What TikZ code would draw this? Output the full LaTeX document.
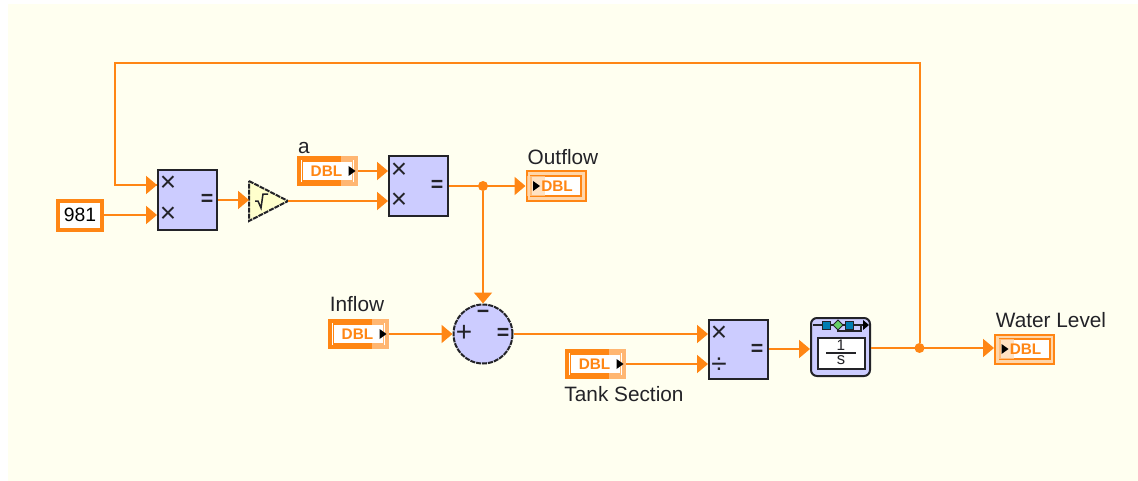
\documentclass[tikz,border=0pt]{standalone}
\usepackage{fontspec}
\setmainfont{Liberation Sans}
\usepackage{xcolor}
\usetikzlibrary{arrows.meta}
\definecolor{lvorange}{RGB}{255,134,20}
\definecolor{lvlight}{RGB}{255,214,170}
\definecolor{lvblue}{RGB}{204,204,255}
\definecolor{lvcream}{RGB}{255,255,240}
\definecolor{lvyellow}{RGB}{255,255,204}
\definecolor{lvdark}{RGB}{35,35,40}
\def\px{0.75pt}
\newcommand{\labelfont}{\fontsize{15.6}{18}\selectfont}
\tikzset{
  wire/.style={color=lvorange,line width=2*\px,-{Triangle[length=11*\px,width=18*\px]}},
  plainwire/.style={color=lvorange,line width=2*\px},
  jct/.style={circle,fill=lvorange,inner sep=0,minimum size=10*\px},
  fnbox/.style={draw=lvdark,fill=lvblue,line width=2*\px,minimum width=59*\px,minimum height=59*\px,inner sep=0},
  glyph/.style={color=lvdark,inner sep=0,font=\fontsize{16}{18}\selectfont\bfseries},
  bigglyph/.style={color=lvdark,inner sep=0,font=\fontsize{21}{22}\selectfont},
  lbl/.style={color=lvdark,inner sep=0,font=\labelfont},
  dbl/.style={color=lvorange,inner sep=0,font=\fontsize{11.5}{12}\selectfont\bfseries},
  outbox/.style={draw=lvorange,fill=white,line width=4*\px,minimum width=57*\px,minimum height=26*\px,inner sep=0},
  inbox/.style={draw=lvorange,fill=lvlight,line width=2*\px,minimum width=59*\px,minimum height=29*\px,inner sep=0},
}
\begin{document}
\begin{tikzpicture}[x=0.75pt,y=-0.75pt]
\useasboundingbox (0,0) rectangle (1138,481);
\fill[white] (0,0) rectangle (1138,481);
\fill[lvcream] (8,4) rectangle (1138,481);

%function blocks:
 \node[fnbox] (mulA) at (187.5,200) {};
 \node[fnbox] (mulB) at (418.5,186) {};
 \node[fnbox] (mulC) at (738.5,349) {};
 \node[fnbox,circle,minimum size=59*\px,dash pattern=on 5*\px off 1*\px] (sum) at (483,334) {};
 \node[draw=lvorange,fill=white,line width=4*\px,minimum width=44*\px,minimum height=29*\px,inner sep=0,font=\fontsize{14.5}{18}\selectfont] (gravity) at (80,215) {981};

%square root:
 \coordinate (sqrtIn) at (249,201);
 \coordinate (sqrtOut) at (288,201);
 \draw[draw=lvdark,fill=lvyellow,line width=2*\px,dash pattern=on 5*\px off 1*\px] (249,181) -- (sqrtOut) -- (249,221) -- cycle;
 \draw[color=lvdark,line width=1.5*\px] (255,201) -- (258,201) -- (261,208) -- (263,194) -- (268,194);

%glyphs on the blocks:
 \foreach \gx/\gy [count=\i] in {168/184,168/215,399/171,399/201,719/334}{
  \node[bigglyph] (times\i) at (\gx,\gy) {×};
 }
 \foreach \gx/\gy [count=\i] in {207/200,437/186,757/350,503/334}{
  \node[glyph] (equal\i) at (\gx,\gy) {=};
 }
 \node[bigglyph] (divide) at (719,366) {÷};
 \node[glyph] (minus) at (483,314) {−};
 \node[bigglyph] (plus) at (464,333) {+};

%terminals:
 \foreach \nm/\cx/\cy in {areaIn/327.5/171,inflow/358.5/334,tank/595.5/364}{
  \node[outbox] (\nm) at (\cx,\cy) {};
  \begin{scope}[shift={(\cx,\cy)}]
   \draw[color=lvorange,line width=1.5*\px] (-25,-10) rectangle (25,10);
   \fill[white,opacity=0.4] (13,-15) rectangle (31,15);
   \node[dbl] (\nm txt) at (-1,0) {DBL};
   \fill[black] (21,-5) -- (28,0) -- (21,5) -- cycle;
  \end{scope}
 }
 \foreach \nm/\cx/\cy in {outflow/556/186,level/1024.5/349}{
  \node[inbox] (\nm) at (\cx,\cy) {};
  \begin{scope}[shift={(\cx,\cy)}]
   \draw[color=lvorange,fill=white,line width=2*\px] (-25,-10) rectangle (25,10);
   \fill[lvlight,opacity=0.7] (-29,-10) rectangle (-11,10);
   \node[dbl] (\nm txt) at (1,0) {DBL};
   \fill[black] (-23,-5) -- (-16,0) -- (-23,5) -- cycle;
  \end{scope}
 }

%integrator:
 \node[fnbox,rounded corners=6*\px,minimum width=59*\px,minimum height=58*\px] (integ) at (840.5,347) {};
 \node[draw=lvdark,fill=white,line width=2*\px,minimum width=47*\px,minimum height=31*\px,inner sep=0] (integBox) at (841,353) {};
 \draw[color=lvdark,line width=1.5*\px] (826,353) -- (856,353);
 \node[glyph,font=\fontsize{11.5}{12}\selectfont] (integNum) at (841,345) {1};
 \node[glyph,font=\fontsize{12.5}{12}\selectfont] (integDen) at (841,360) {s};
 \draw[color=lvdark,line width=1.5*\px] (813,325) -- (864,325);
 \draw[color=lvdark,line width=1.5*\px] (838,325) -- (838,331) -- (861,331) -- (861,325);
 \fill[black] (863,320) -- (869,325) -- (863,330) -- cycle;
 \foreach \bx in {826,849}{
  \draw[draw=lvdark,fill=blue!30!cyan!70!black,line width=1*\px] (\bx-4,321) rectangle (\bx+4,329);
 }
 \draw[draw=lvdark,fill=green!70!black!60!white,line width=1*\px] (838,320) -- (843,325) -- (838,330) -- (833,325) -- cycle;

%junctions:
 \node[jct] (jctA) at (483,186) {};
 \node[jct] (jctB) at (919.5,348) {};
 \coordinate (fbkCorner) at (115,63);
 \coordinate (fbkIn) at (157,185);

%wires:
 \draw[plainwire] (jctB) |- (fbkCorner) |- (fbkIn);
 \draw[wire] (fbkCorner |- fbkIn) -- (fbkIn);
 \draw[wire] (gravity.east) -- (mulA.west |- gravity.east);
 \draw[wire] (mulA.east) -- (sqrtIn |- mulA.east);
 \draw[wire] (sqrtOut) -- (mulB.west |- sqrtOut);
 \draw[wire] (areaIn.east) -- (mulB.west |- areaIn.east);
 \draw[wire] (mulB.east) -- (outflow.west |- mulB.east);
 \draw[wire] (jctA) -- (sum.north);
 \draw[wire] (inflow.east) -- (sum.west |- inflow.east);
 \draw[wire] (sum.east) -- (mulC.west |- sum.east);
 \draw[wire] (tank.east) -- (mulC.west |- tank.east);
 \draw[wire] (mulC.east) -- (integ.west |- mulC.east);
 \draw[wire] (integ.east |- jctB) -- (level.west |- jctB);

%labels:
 \node[lbl] (areaLbl) at (304,148) {a};
 \node[lbl] (outflowLbl) at (563,157) {Outflow};
 \node[lbl] (inflowLbl) at (357,304) {Inflow};
 \node[lbl] (tankLbl) at (624,394) {Tank Section};
 \node[lbl] (levelLbl) at (1051,320) {Water Level};
\end{tikzpicture}
\end{document}
